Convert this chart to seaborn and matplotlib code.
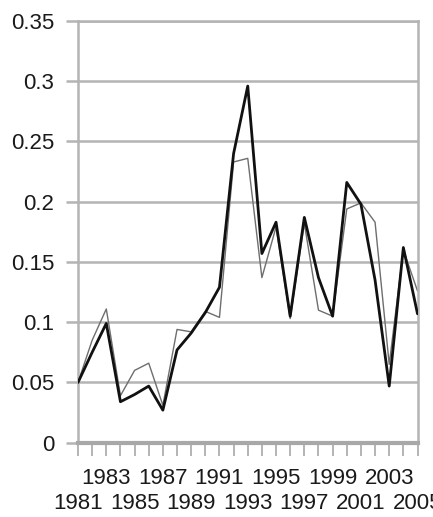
import matplotlib
matplotlib.use("Agg")
import matplotlib.pyplot as plt
import seaborn as sns
import pandas as pd

years = list(range(1981, 2006))
series_dark = [0.050, 0.075, 0.099, 0.034, 0.040, 0.047, 0.027, 0.077, 0.091, 0.108,
               0.129, 0.240, 0.296, 0.157, 0.183, 0.105, 0.187, 0.137, 0.105, 0.216,
               0.198, 0.135, 0.047, 0.162, 0.107]
series_gray = [0.050, 0.085, 0.111, 0.039, 0.060, 0.066, 0.031, 0.094, 0.092, 0.109,
               0.104, 0.233, 0.236, 0.137, 0.179, 0.103, 0.182, 0.110, 0.105, 0.194,
               0.199, 0.183, 0.065, 0.160, 0.126]
y_ticks = [0, 0.05, 0.1, 0.15, 0.2, 0.25, 0.3, 0.35]
y_labels = ["0", "0.05", "0.1", "0.15", "0.2", "0.25", "0.3", "0.35"]
upper_years = [1983, 1987, 1991, 1995, 1999, 2003]
lower_years = [1981, 1985, 1989, 1993, 1997, 2001, 2005]

sns.set_style("white")
plt.rcParams['font.family'] = ['Liberation Sans', 'DejaVu Sans']

df = pd.DataFrame({"year": years * 2,
                   "value": series_dark + series_gray,
                   "series": ["A"] * len(years) + ["B"] * len(years)})

fig = plt.figure(figsize=(4.33, 5.17), dpi=100)
ax = fig.add_axes([78 / 433, 1 - 442.7 / 517, (417.5 - 78) / 433, (442.7 - 21) / 517])

grid_c = "#b4b4b4"
for v in y_ticks[1:]:
    ax.axhline(v, color=grid_c, lw=1.8, zorder=0)

sns.lineplot(data=df[df.series == "B"], x="year", y="value", color="#6e6e6e", lw=1.0, ax=ax, zorder=2)
sns.lineplot(data=df[df.series == "A"], x="year", y="value", color="#111111", lw=2.0, ax=ax, zorder=3)

ax.set_xlim(1981, 2005)
ax.set_ylim(0, 0.35)
ax.set_yticks(y_ticks)
ax.set_yticklabels(y_labels)
ax.set_xticks(years)
ax.set_xticklabels([str(y) if y in upper_years else "" for y in years])
ax.set_xlabel("")
ax.set_ylabel("")
if ax.get_legend():
    ax.get_legend().remove()

for s in ["left", "right", "top"]:
    ax.spines[s].set_color(grid_c)
    ax.spines[s].set_linewidth(1.8)
ax.spines["bottom"].set_color("#a8a8a8")
ax.spines["bottom"].set_linewidth(3)

txt_c = "#1a1a1a"
fs = 16
ax.tick_params(axis="y", direction="out", length=9, width=1.8, color=grid_c,
               pad=8, labelsize=fs, labelcolor=txt_c, left=True)
ax.tick_params(axis="x", direction="out", length=9, width=1.2, color="#a8a8a8",
               pad=9, labelsize=fs, labelcolor=txt_c, bottom=True)

sec = ax.secondary_xaxis("bottom")
sec.set_xticks(lower_years)
sec.set_xticklabels([str(y) for y in lower_years])
sec.spines["bottom"].set_visible(False)
sec.tick_params(axis="x", length=0, pad=36.5, labelsize=fs, labelcolor=txt_c)
for lab in sec.get_xticklabels():
    lab.set_clip_on(False)

fig.savefig("out.png", dpi=100, facecolor="white")
